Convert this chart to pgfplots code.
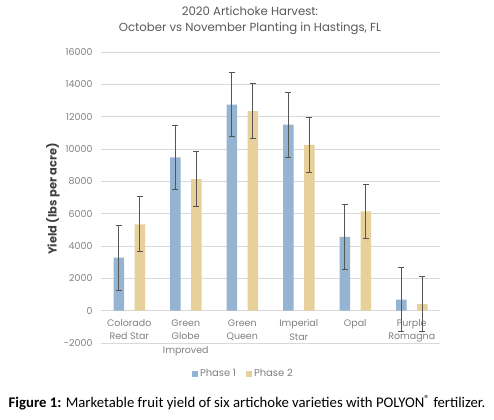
\documentclass[border=0pt]{standalone}
\usepackage{fontspec}
\setmainfont{Carlito}
\newfontfamily\chartfont{Poppins}
\usepackage{pgfplots}
\pgfplotsset{compat=1.18}
\definecolor{pone}{RGB}{149,180,210}
\definecolor{ptwo}{RGB}{232,208,155}
\definecolor{gridc}{RGB}{217,217,217}
\definecolor{tickc}{RGB}{128,128,128}
\definecolor{errc}{RGB}{85,85,85}
\definecolor{titlec}{RGB}{89,89,89}
\definecolor{ylabc}{RGB}{64,64,64}
\begin{document}
\begin{tikzpicture}[x=1bp,y=1bp]
\path[use as bounding box] (0,0) rectangle (494,419);
\begin{axis}[
  at={(101bp,76bp)}, anchor=south west,
  scale only axis, width=339bp, height=291bp,
  ymin=-2000, ymax=16000, ytick={-2000,0,2000,4000,6000,8000,10000,12000,14000,16000},
  scaled y ticks=false,
  xmin=-0.5, xmax=5.5, xtick={0,1,2,3,4,5},
  xticklabels={Colorado\\Red Star, Green\\Globe\\Improved, Green\\Queen, Imperial\\Star, Opal, Purple\\Romagna},
  ymajorgrids, major grid style={gridc, line width=0.8bp},
  axis line style={draw=none}, major tick length=0pt,
  /pgf/number format/assume math mode=true,
  /pgf/number format/1000 sep={},
  yticklabel style={font=\chartfont\fontsize{9.5}{10}\selectfont, text=tickc, xshift=-5bp},
  xticklabel style={font=\chartfont\fontsize{9.5}{13.5}\selectfont, text=tickc, align=center, yshift=27bp},
  ybar=10.5bp, bar width=10.5bp,
  legend columns=2,
  legend style={draw=none, fill=none, at={(0.42,-0.1065)}, anchor=center,
    font=\chartfont\fontsize{10}{12}\selectfont, text=tickc,
    /tikz/every even column/.append style={column sep=8bp}},
  legend image code/.code={\fill[#1] (0bp,-3bp) rectangle (6bp,3bp);},
  error bars/error bar style={line width=0.8bp, errc},
  error bars/error mark options={rotate=90, mark size=3.2bp, line width=0.8bp, errc},
]
\addplot[fill=pone, draw=none, error bars/.cd, y dir=both, y explicit]
  coordinates {(0,3280) +- (0,2000) (1,9480) +- (0,2000) (2,12750) +- (0,2000)
               (3,11500) +- (0,2000) (4,4570) +- (0,2000) (5,690) +- (0,1990)};
\addplot[fill=ptwo, draw=none, error bars/.cd, y dir=both, y explicit]
  coordinates {(0,5340) +- (0,1700) (1,8140) +- (0,1700) (2,12350) +- (0,1700)
               (3,10250) +- (0,1700) (4,6140) +- (0,1700) (5,400) +- (0,1700)};
\legend{Phase 1, Phase 2}
\end{axis}
\node[align=center, font=\chartfont\fontsize{11.75}{15.5}\selectfont, text=titlec] at (250bp,398.5bp)
  {2020 Artichoke Harvest:\\October vs November Planting in Hastings, FL};
\node[rotate=90, font=\chartfont\bfseries\fontsize{11.5}{13}\selectfont, text=ylabc] at (53bp,220bp)
  {Yield (lbs per acre)};
\node[font=\fontsize{14.8}{17}\selectfont] at (247bp,16bp)
  {\textbf{Figure 1:} Marketable fruit yield of six artichoke varieties with POLYON\textsuperscript{®} fertilizer.};
\end{tikzpicture}
\end{document}
